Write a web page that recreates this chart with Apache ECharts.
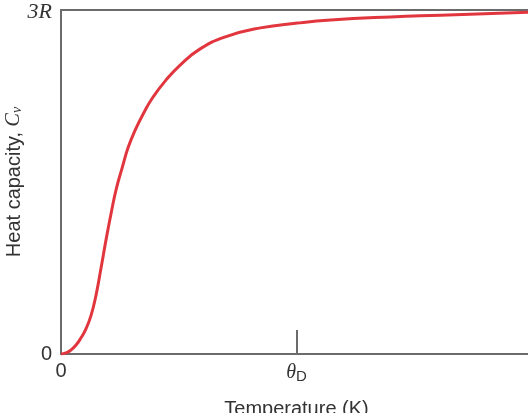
<!DOCTYPE html>
<html>
<head>
<meta charset="utf-8">
<script src="https://cdn.jsdelivr.net/npm/echarts@6/dist/echarts.min.js"></script>
<style>
  html, body { margin: 0; padding: 0; background: #fff; }
  #chart { width: 528px; height: 413px; }
</style>
</head>
<body>
<div id="chart"></div>
<script>
// T / theta_D
const tempRatio = [0, 0.021, 0.043, 0.064, 0.085, 0.106, 0.128, 0.149, 0.17, 0.191, 0.213, 0.234, 0.26, 0.285, 0.315, 0.353, 0.391, 0.443, 0.506, 0.591, 0.698, 0.847, 1.004, 1.145, 1.4, 1.613, 2.0];
// Cv as a fraction of 3R
const heatCap = [0, 0.003, 0.012, 0.026, 0.047, 0.073, 0.113, 0.172, 0.25, 0.331, 0.41, 0.478, 0.542, 0.6, 0.651, 0.703, 0.747, 0.794, 0.84, 0.887, 0.922, 0.948, 0.962, 0.971, 0.98, 0.985, 0.994];

const xTicks = [0, 1];
const xTickLabels = ['0', '{it|θ}{sub|D}'];
const yTicks = [0, 1];
const yTickLabels = ['0', '{big|3R}'];

const axisColor = '#6b6b6b';
const textColor = '#333';
const sans = 'Liberation Sans';
const serif = 'Liberation Serif';

const chart = echarts.init(document.getElementById('chart'));

const labelRich = {
  it: { fontFamily: serif, fontStyle: 'italic', fontSize: 20, color: textColor },
  big: { fontFamily: serif, fontStyle: 'italic', fontSize: 22, color: textColor, padding: [5, 0, 0, 0] },
  sub: { fontFamily: sans, fontSize: 15, color: textColor, verticalAlign: 'bottom', padding: [8, 0, 0, 0] }
};

chart.setOption({
  animation: false,
  grid: {
    left: 61, top: 10, bottom: 59, right: -4,
    outerBoundsMode: 'none'
  },
  xAxis: [{
    type: 'value',
    min: 0, max: 2, interval: 1,
    name: 'Temperature (K)',
    nameLocation: 'middle',
    nameGap: 45,
    nameMoveOverlap: false,
    nameTextStyle: { fontFamily: sans, fontSize: 20, color: textColor },
    axisLine: { show: true, lineStyle: { color: axisColor, width: 2 } },
    axisTick: { show: true, inside: true, length: 24, customValues: [1], lineStyle: { color: axisColor, width: 2 } },
    splitLine: { show: false },
    axisLabel: {
      customValues: xTicks,
      margin: 7,
      fontFamily: sans, fontSize: 20, color: textColor,
      formatter: v => xTickLabels[xTicks.indexOf(v)] || '',
      rich: labelRich
    }
  }, {
    // top frame line only
    type: 'value',
    position: 'top',
    min: 0, max: 2,
    axisLine: { show: true, lineStyle: { color: axisColor, width: 2 } },
    axisTick: { show: false },
    axisLabel: { show: false },
    splitLine: { show: false }
  }],
  yAxis: {
    type: 'value',
    min: 0, max: 1, interval: 1,
    name: '{t|Heat capacity, }{it|C}{sub|v}',
    nameLocation: 'middle',
    nameGap: 37,
    nameMoveOverlap: false,
    nameTextStyle: {
      rich: {
        t: { fontFamily: sans, fontSize: 20, color: textColor },
        it: { fontFamily: serif, fontStyle: 'italic', fontSize: 20, color: textColor },
        sub: { fontFamily: serif, fontStyle: 'italic', fontSize: 14, color: textColor, verticalAlign: 'bottom', padding: [6, 0, 0, 0] }
      }
    },
    axisLine: { show: true, lineStyle: { color: axisColor, width: 2 } },
    axisTick: { show: false },
    splitLine: { show: false },
    axisLabel: {
      customValues: yTicks,
      margin: 9,
      fontFamily: sans, fontSize: 20, color: textColor,
      formatter: v => yTickLabels[yTicks.indexOf(v)] || '',
      rich: labelRich
    }
  },
  series: [{
    type: 'line',
    data: tempRatio.map((t, i) => [t, heatCap[i]]),
    smooth: 0.5,
    showSymbol: false,
    lineStyle: { color: '#e2363f', width: 3 }
  }]
});
</script>
</body>
</html>
